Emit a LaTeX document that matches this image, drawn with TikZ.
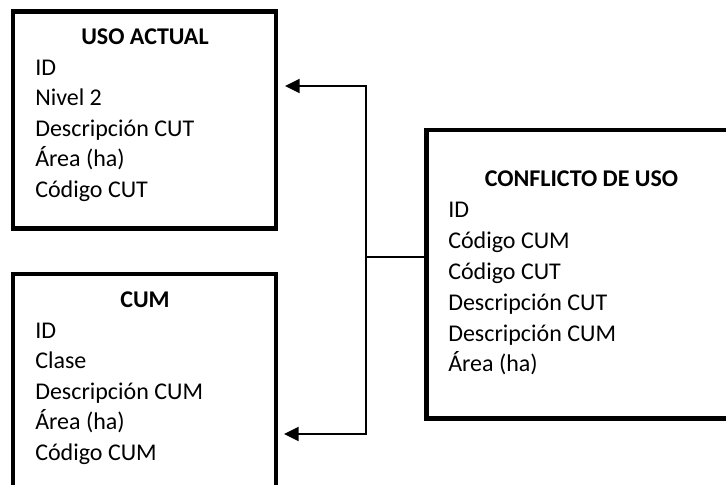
\documentclass[tikz,border=0pt]{standalone}
\usepackage{fontspec}
\setmainfont{Carlito}
\usetikzlibrary{arrows.meta}

\begin{document}
\begin{tikzpicture}[x=0.75pt,y=-0.75pt,
  tablebox/.style={draw, line width=3.4pt, inner sep=0pt, outer sep=0pt},
  title/.style={font=\fontsize{18}{21}\selectfont\bfseries, inner sep=0pt, anchor=base},
  field/.style={font=\fontsize{18}{21}\selectfont, inner sep=0pt, anchor=base west},
  link/.style={line width=1.5pt}]
  \useasboundingbox (0,0) rectangle (726,485);
  \clip (0,0) rectangle (726,485);

  % table frames
  \node[tablebox, minimum width=197.25pt, minimum height=162.75pt] (uso) at (144.5,120) {};
  \node[tablebox, minimum width=197.25pt, minimum height=199.5pt] (cum) at (144.5,407) {};
  \node[tablebox, minimum width=232.5pt, minimum height=216.4pt] (conf) at (581.5,274.25) {};

  % USO ACTUAL
  \node[title] (usoT) at (145,45) {USO ACTUAL};
  \foreach \t [count=\i] in {ID, Nivel 2, Descripción CUT, Área (ha), Código CUT}
    \node[field] (uso\i) at (35,{45+30.5*\i}) {\t};

  % CUM
  \node[title] (cumT) at (145,307.5) {CUM};
  \foreach \t [count=\i] in {ID, Clase, Descripción CUM, Área (ha), Código CUM}
    \node[field] (cum\i) at (35,{307.5+30.5*\i}) {\t};

  % CONFLICTO DE USO
  \node[title] (confT) at (581.5,187) {CONFLICTO DE USO};
  \foreach \t [count=\i] in {ID, Código CUM, Código CUT, Descripción CUT, Descripción CUM, Área (ha)}
    \node[field] (conf\i) at (448,{187+30.8*\i}) {\t};

  % connectors
  \coordinate (j) at (366,257);
  \coordinate (a1) at (285,86);
  \coordinate (a2) at (284,434);
  \draw[link, {Triangle[length=11pt,width=10.5pt]}-{Triangle[length=11pt,width=10.5pt]}] (a1) -| (j) |- (a2);
  \draw[link] (conf.west |- j) -- (j);
\end{tikzpicture}
\end{document}
